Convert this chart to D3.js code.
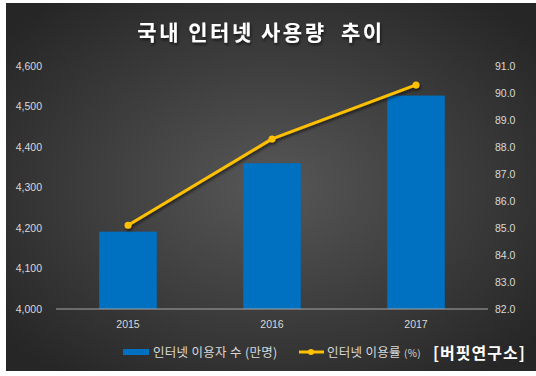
<!DOCTYPE html>
<html>
<head>
<meta charset="utf-8">
<script src="https://cdn.jsdelivr.net/npm/d3@7"></script>
<style>
    body { margin: 0; background: #fff; }
    text { font-family: "Noto Sans CJK KR", "Noto Sans", sans-serif; }
</style>
</head>
<body>
<div id="chart"></div>
<script>
const years = ["2015", "2016", "2017"];
const users = [4191, 4360, 4527];          // 인터넷 이용자 수 (만명)
const rate = [85.1, 88.3, 90.3];           // 인터넷 이용률 (%)
const leftTicks = [4000, 4100, 4200, 4300, 4400, 4500, 4600];
const rightTicks = [82, 83, 84, 85, 86, 87, 88, 89, 90, 91];

let width = 536, height = 376;

let svg = d3.select("#chart").append("svg")
    .attr("width", width)
    .attr("height", height);

let defs = svg.append("defs");
let grad = defs.append("radialGradient")
    .attr("id", "bg")
    .attr("cx", "50%").attr("cy", "50%").attr("r", "65%");
grad.append("stop").attr("offset", "0%").attr("stop-color", "#575757");
grad.append("stop").attr("offset", "100%").attr("stop-color", "#262626");

let shadow = defs.append("filter").attr("id", "shadow")
    .attr("x", "-20%").attr("y", "-20%").attr("width", "140%").attr("height", "160%");
shadow.append("feDropShadow")
    .attr("dx", 1).attr("dy", 2).attr("stdDeviation", 1.5)
    .attr("flood-color", "#000").attr("flood-opacity", 0.6);

svg.append("rect")
    .attr("x", 6).attr("y", 3)
    .attr("width", 530).attr("height", 368)
    .attr("fill", "url(#bg)");

svg.append("text")
    .attr("x", 261).attr("y", 40)
    .attr("text-anchor", "middle")
    .attr("fill", "#fff")
    .attr("font-size", 21)
    .attr("font-weight", "bold")
    .attr("letter-spacing", 2.5)
    .attr("filter", "url(#shadow)")
    .style("white-space", "pre")
    .text("국내 인터넷 사용량  추이");

let x = d3.scaleBand().domain(years).range([56, 488]).paddingInner(0.6).paddingOuter(0.3);
let yL = d3.scaleLinear().domain([4000, 4600]).range([309, 66]);
let yR = d3.scaleLinear().domain([82, 91]).range([309, 66]);

// axes
let axisL = svg.append("g")
    .attr("transform", "translate(42,0)")
    .call(d3.axisLeft(yL).tickValues(leftTicks).tickSize(0).tickPadding(0).tickFormat(d3.format(",")));
let axisR = svg.append("g")
    .attr("transform", "translate(495,0)")
    .call(d3.axisRight(yR).tickValues(rightTicks).tickSize(0).tickPadding(0).tickFormat(d3.format(".1f")));
let axisX = svg.append("g")
    .attr("transform", "translate(0,309)")
    .call(d3.axisBottom(x).tickSize(0).tickPadding(12));

[axisL, axisR, axisX].forEach(a => {
    a.select(".domain").remove();
    a.selectAll("text")
        .attr("fill", "#d9d9d9")
        .attr("font-size", 10.5)
        .style("font-family", "'Liberation Sans', 'DejaVu Sans', sans-serif");
});

// bars
svg.append("g").selectAll("rect")
    .data(users)
    .join("rect")
    .attr("x", (d, i) => x(years[i]))
    .attr("y", d => yL(d))
    .attr("width", x.bandwidth())
    .attr("height", d => yL(4000) - yL(d))
    .attr("fill", "#0070c0");

svg.append("line")
    .attr("x1", 56).attr("x2", 488)
    .attr("y1", yL(4000)).attr("y2", yL(4000))
    .attr("stroke", "#a6a6a6").attr("stroke-width", 1);

// line
let cx = (d, i) => x(years[i]) + x.bandwidth() / 2;
let line = d3.line().x(cx).y(d => yR(d));
let lineG = svg.append("g").attr("filter", "url(#shadow)");
lineG.append("path")
    .datum(rate)
    .attr("d", line)
    .attr("fill", "none")
    .attr("stroke", "#ffc000")
    .attr("stroke-width", 3)
    .attr("stroke-linejoin", "round");
lineG.selectAll("circle")
    .data(rate)
    .join("circle")
    .attr("cx", cx)
    .attr("cy", d => yR(d))
    .attr("r", 3.5)
    .attr("fill", "#ffc000");

// legend
let legend = svg.append("g");
legend.append("rect")
    .attr("x", 123).attr("y", 349)
    .attr("width", 26).attr("height", 6)
    .attr("fill", "#0070c0");
legend.append("text")
    .attr("x", 153).attr("y", 357)
    .attr("fill", "#d9d9d9").attr("font-size", 12.5)
    .attr("letter-spacing", 0.3)
    .text("인터넷 이용자 수 (만명)");

legend.append("line")
    .attr("x1", 299).attr("x2", 324)
    .attr("y1", 352).attr("y2", 352)
    .attr("stroke", "#ffc000").attr("stroke-width", 3);
legend.append("circle")
    .attr("cx", 311).attr("cy", 352).attr("r", 3)
    .attr("fill", "#ffc000");
let t2 = legend.append("text")
    .attr("x", 327).attr("y", 357)
    .attr("fill", "#d9d9d9").attr("font-size", 12.5)
    .attr("letter-spacing", 0.3);
t2.append("tspan").text("인터넷 이용률 ");
t2.append("tspan").attr("font-size", 10).text("(%)");

svg.append("text")
    .attr("x", 433).attr("y", 359)
    .attr("fill", "#fff")
    .attr("font-size", 16)
    .attr("font-weight", "bold")
    .attr("letter-spacing", 1)
    .text("[버핏연구소]");
</script>
</body>
</html>
